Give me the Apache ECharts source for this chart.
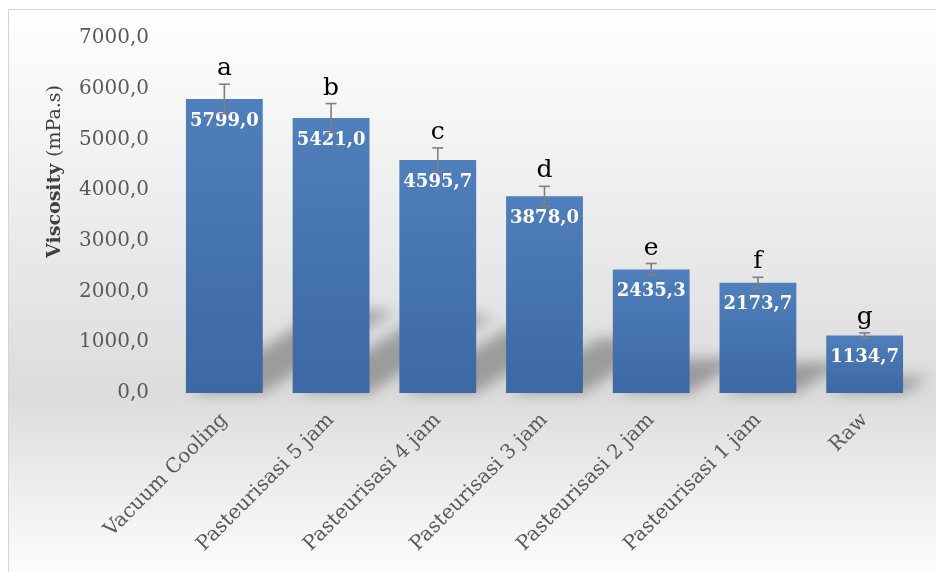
<!DOCTYPE html>
<html>
<head>
<meta charset="utf-8">
<script src="https://cdn.jsdelivr.net/npm/echarts@6/dist/echarts.min.js"></script>
<style>
  html, body { margin: 0; padding: 0; background: #fff; }
  #main { width: 936px; height: 572px; }
</style>
</head>
<body>
<div id="main"></div>
<script>
var categories = ['Vacuum Cooling', 'Pasteurisasi 5 jam', 'Pasteurisasi 4 jam',
  'Pasteurisasi 3 jam', 'Pasteurisasi 2 jam', 'Pasteurisasi 1 jam', 'Raw'];
var viscosity = [5799.0, 5421.0, 4595.7, 3878.0, 2435.3, 2173.7, 1134.7];
var errors = [290, 286, 237, 197, 118, 108, 50];
var letters = ['a', 'b', 'c', 'd', 'e', 'f', 'g'];
var yTicks = [0, 1000, 2000, 3000, 4000, 5000, 6000, 7000];

var serif = 'DejaVu Serif';
var chart = echarts.init(document.getElementById('main'));

function comma(v) {
  return v.toFixed(1).replace('.', ',');
}

var errData = viscosity.map(function (v, i) { return [i, v, errors[i]]; });
var shadowData = viscosity.map(function (v, i) { return [i, v]; });

var option = {
  animation: false,
  graphic: [{
    type: 'rect',
    z: -10,
    shape: { x: 8.5, y: 9.5, width: 960, height: 600 },
    style: {
      stroke: '#d4d4d4',
      lineWidth: 1,
      fill: new echarts.graphic.LinearGradient(0, 0, 0, 1, [
        { offset: 0, color: '#ffffff' },
        { offset: 0.64, color: '#dcdcdc' },
        { offset: 0.96, color: '#ffffff' },
        { offset: 1, color: '#ffffff' }
      ])
    }
  }],
  grid: { left: 171, right: 18, top: 38, bottom: 179 },
  xAxis: {
    type: 'category',
    data: categories,
    axisLine: { show: false },
    axisTick: { show: false },
    axisLabel: {
      rotate: 45,
      interval: 0,
      margin: 24,
      color: '#595959',
      fontFamily: serif,
      fontSize: 20
    }
  },
  yAxis: {
    type: 'value',
    min: yTicks[0],
    max: yTicks[yTicks.length - 1],
    interval: 1000,
    splitLine: { show: false },
    axisLine: { show: false },
    axisTick: { show: false },
    axisLabel: {
      margin: 22,
      color: '#595959',
      fontFamily: serif,
      fontSize: 20,
      formatter: function (v) { return comma(v); }
    },
    name: '{b|Viscosity}  {r|(mPa.s)}',
    nameLocation: 'middle',
    nameRotate: 90,
    nameGap: 106,
    nameTextStyle: {
      padding: [0, 0, 0, 88],
      rich: {
        b: { fontFamily: serif, fontSize: 19, fontWeight: 'bold', color: '#404040' },
        r: { fontFamily: serif, fontSize: 19, color: '#404040' }
      }
    }
  },
  series: [{
    // perspective shadow behind each bar
    type: 'custom',
    z: 1,
    silent: true,
    data: shadowData,
    renderItem: function (params, api) {
      var base = api.coord([api.value(0), 0]);
      var top = api.coord([api.value(0), api.value(1)]);
      var w = api.size([1, 0])[0] * 0.72;
      var h = base[1] - top[1];
      var hs = h * 0.28;
      var dx = hs / 0.62;
      var off = 2000;
      var x0 = base[0] - w / 2 - off, x1 = base[0] + w / 2 - off, yb = base[1];
      return {
        type: 'polygon',
        shape: { points: [[x0 + 4, yb], [x1, yb], [x1 + dx, yb - hs], [x0 + dx + 4, yb - hs]] },
        style: {
          fill: '#000',
          shadowColor: 'rgba(0,0,0,0.3)',
          shadowBlur: 14,
          shadowOffsetX: off
        }
      };
    }
  }, {
    type: 'bar',
    z: 2,
    data: viscosity,
    barCategoryGap: '28%',
    itemStyle: {
      color: new echarts.graphic.LinearGradient(0, 0, 0, 1, [
        { offset: 0, color: '#4f7fbc' },
        { offset: 1, color: '#3c68a3' }
      ])
    },
    label: {
      show: true,
      position: 'insideTop',
      distance: 13,
      color: '#ffffff',
      fontFamily: serif,
      fontWeight: 'bold',
      fontSize: 18,
      formatter: function (p) { return comma(p.value); }
    }
  }, {
    // error bars with significance letters
    type: 'custom',
    z: 3,
    silent: true,
    data: errData,
    renderItem: function (params, api) {
      var i = api.value(0), v = api.value(1), e = api.value(2);
      var hi = api.coord([i, v + e]);
      var lo = api.coord([i, v - e]);
      var cap = 5.5;
      var ls = { stroke: '#808080', lineWidth: 1.6 };
      return {
        type: 'group',
        children: [
          { type: 'line', shape: { x1: hi[0], y1: hi[1], x2: lo[0], y2: lo[1] }, style: ls },
          { type: 'line', shape: { x1: hi[0] - cap, y1: hi[1], x2: hi[0] + cap, y2: hi[1] }, style: ls },
          { type: 'line', shape: { x1: lo[0] - cap, y1: lo[1], x2: lo[0] + cap, y2: lo[1] }, style: ls },
          {
            type: 'text',
            style: {
              text: letters[params.dataIndex],
              x: hi[0],
              y: hi[1] - 3,
              align: 'center',
              verticalAlign: 'bottom',
              fill: '#000',
              font: '25px "DejaVu Serif"'
            }
          }
        ]
      };
    }
  }]
};

chart.setOption(option);
</script>
</body>
</html>
